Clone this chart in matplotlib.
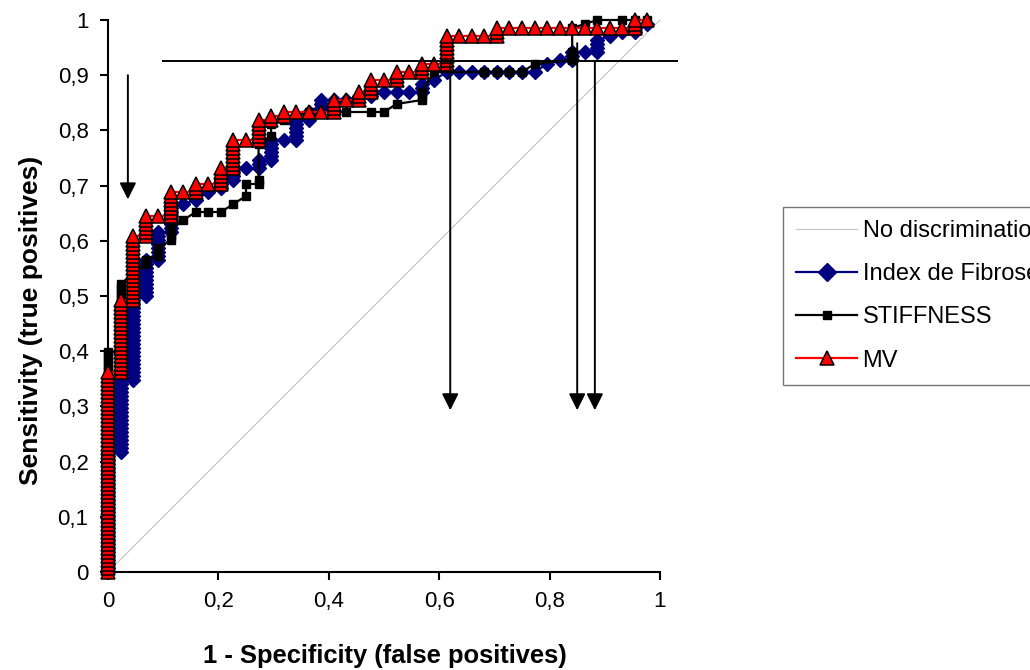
import matplotlib
matplotlib.use("Agg")
import matplotlib.pyplot as plt
from matplotlib.lines import Line2D
import numpy as np

plt.rcParams['font.family'] = ['Liberation Sans', 'DejaVu Sans']

# Study sizes: patients without / with significant fibrosis
N_NEG = 44
N_POS = 138

# ROC points as (false-positive count, true-positive count), one line per FP level
fib_fp = [
    0, 0, 0, 0, 0, 0, 0, 0, 0, 0, 0, 0, 0, 0, 0, 0, 0, 0, 0, 0, 0, 0, 0, 0, 0, 0, 0, 0, 0, 0, 0,
    1, 1, 1, 1, 1, 1, 1, 1, 1, 1, 1, 1, 1, 1, 1, 1, 1, 1, 1,
    2, 2, 2, 2, 2, 2, 2, 2, 2, 2, 2, 2, 2, 2, 2, 2, 2, 2, 2, 2, 2,
    3, 3, 3, 3, 3, 3, 3, 3, 3, 3,
    4, 4, 4, 4, 4, 4, 4, 4,
    5, 5, 5, 5, 5, 5, 5, 5,
    6, 7, 8,
    9, 9, 9,
    10, 10, 10, 10,
    11,
    12, 12, 12,
    13, 13, 13, 13, 13, 13,
    14,
    15, 15, 15, 15, 15, 15,
    16, 16, 16,
    17, 17, 17,
    18, 19, 20, 21, 22, 23, 24,
    25, 25, 25,
    26, 27, 28, 29, 30, 31, 32, 33, 34, 35, 36,
    37, 37, 37,
    38,
    39, 39, 39, 39,
    40, 41,
    42, 42,
    43,
]
fib_tp = [
    0, 1, 2, 3, 4, 5, 6, 7, 8, 9, 10, 11, 12, 13, 14, 15, 16, 17, 18, 19, 20, 21, 22, 23, 24, 25, 26, 27, 28, 29, 30,
    30, 31, 32, 33, 34, 35, 36, 37, 38, 39, 40, 41, 42, 43, 44, 45, 46, 47, 48,
    48, 49, 50, 51, 52, 53, 54, 55, 56, 57, 58, 59, 60, 61, 62, 63, 64, 65, 66, 67, 68,
    69, 70, 71, 72, 73, 74, 75, 76, 77, 78,
    78, 79, 80, 81, 82, 83, 84, 85,
    85, 86, 87, 88, 89, 90, 91, 92,
    92, 93, 95,
    96, 97, 98,
    98, 99, 100, 101,
    101,
    101, 102, 103,
    103, 104, 105, 106, 107, 108,
    108,
    108, 109, 110, 111, 112, 113,
    113, 114, 115,
    116, 117, 118,
    118, 118, 119, 119, 120, 120, 120,
    120, 121, 122,
    123, 125, 125, 125, 125, 125, 125, 125, 125, 127, 128,
    128, 129, 130,
    130,
    130, 131, 132, 133,
    134, 135,
    135, 136,
    137,
]

stiff_fp = [
    0, 0, 0, 0, 0, 0, 0, 0, 0, 0, 0, 0, 0, 0, 0, 0, 0, 0, 0, 0, 0, 0, 0, 0, 0, 0, 0, 0,
    0, 0, 0, 0, 0, 0, 0, 0, 0, 0, 0, 0, 0, 0, 0, 0, 0, 0, 0, 0, 0, 0, 0, 0, 0, 0, 0, 0,
    1, 1, 1, 1, 1, 1, 1, 1, 1, 1, 1, 1, 1, 1, 1, 1, 1, 1,
    3, 3,
    4, 4, 4,
    5, 5, 5, 5,
    6, 7, 8, 9, 10,
    11, 11,
    12, 12, 12,
    13, 13,
    14, 16, 19, 21, 22, 23,
    25, 25, 25,
    26, 30, 31, 32, 33, 34,
    37, 37, 37, 37,
    38, 39, 41, 42, 43,
]
stiff_tp = [
    0, 1, 2, 3, 4, 5, 6, 7, 8, 9, 10, 11, 12, 13, 14, 15, 16, 17, 18, 19, 20, 21, 22, 23, 24, 25, 26, 27,
    28, 29, 30, 31, 32, 33, 34, 35, 36, 37, 38, 39, 40, 41, 42, 43, 44, 45, 46, 47, 48, 49, 50, 51, 52, 53, 54, 55,
    55, 56, 57, 58, 59, 60, 61, 62, 63, 64, 65, 66, 67, 68, 69, 70, 71, 72,
    77, 78,
    79, 80, 81,
    83, 84, 85, 86,
    88, 90, 90, 90, 92,
    94, 97,
    97, 98, 107,
    109, 112,
    113, 115, 115, 115, 115, 117,
    118, 119, 120,
    125, 125, 125, 125, 125, 127,
    128, 129, 130, 136,
    137, 138, 138, 138, 138,
]

mv_fp = [
    0, 0, 0, 0, 0, 0, 0, 0, 0, 0, 0, 0, 0, 0, 0, 0, 0, 0, 0, 0, 0, 0, 0, 0, 0, 0,
    0, 0, 0, 0, 0, 0, 0, 0, 0, 0, 0, 0, 0, 0, 0, 0, 0, 0, 0, 0, 0, 0, 0, 0, 0,
    1, 1, 1, 1, 1, 1, 1, 1, 1, 1, 1, 1, 1, 1, 1, 1, 1, 1, 1,
    2, 2, 2, 2, 2, 2, 2, 2, 2, 2, 2, 2, 2, 2, 2, 2, 2,
    3, 3, 3, 3, 3, 3,
    4,
    5, 5, 5, 5, 5, 5, 5,
    6,
    7, 7, 7,
    8,
    9, 9, 9, 9, 9,
    10, 10, 10, 10, 10, 10, 10, 10,
    11,
    12, 12, 12, 12, 12, 12,
    13, 13,
    14, 14,
    15, 16, 17,
    18, 18, 18, 18,
    19,
    20, 20, 20,
    21, 21, 21, 21,
    22,
    23, 23, 23,
    24,
    25, 25, 25,
    26,
    27, 27, 27, 27, 27, 27, 27, 27,
    28, 29, 30,
    31, 31, 31,
    32, 33, 34, 35, 36, 37, 38, 39, 40, 41,
    42, 42, 42,
    43,
]
mv_tp = [
    0, 1, 2, 3, 4, 5, 6, 7, 8, 9, 10, 11, 12, 13, 14, 15, 16, 17, 18, 19, 20, 21, 22, 23, 24, 25,
    26, 27, 28, 29, 30, 31, 32, 33, 34, 35, 36, 37, 38, 39, 40, 41, 42, 43, 44, 45, 46, 47, 48, 49, 50,
    50, 51, 52, 53, 54, 55, 56, 57, 58, 59, 60, 61, 62, 63, 64, 65, 66, 67, 68,
    68, 69, 70, 71, 72, 73, 74, 75, 76, 77, 78, 79, 80, 81, 82, 83, 84,
    84, 85, 86, 87, 88, 89,
    89,
    89, 90, 91, 92, 93, 94, 95,
    95,
    95, 96, 97,
    97,
    97, 98, 99, 100, 101,
    101, 102, 103, 104, 105, 106, 107, 108,
    108,
    108, 109, 110, 111, 112, 113,
    113, 114,
    114, 115,
    115, 115, 115,
    115, 116, 117, 118,
    118,
    118, 119, 120,
    120, 121, 122, 123,
    123,
    123, 124, 125,
    125,
    125, 126, 127,
    127,
    127, 128, 129, 130, 131, 132, 133, 134,
    134, 134, 134,
    134, 135, 136,
    136, 136, 136, 136, 136, 136, 136, 136, 136, 136,
    136, 137, 138,
    138,
]

# Chance diagonal
diag_x = [0, 1]
diag_y = [0, 1]

# Reference line and cut-off arrows
ref_y = 0.926
ref_x = [0.10, 1.03]
arrow_x = [0.036, 0.62, 0.85, 0.882]
arrow_top = [0.90, 0.926, 0.958, 0.926]
arrow_tip = [0.675, 0.293, 0.293, 0.293]

x_ticks = [0, 0.2, 0.4, 0.6, 0.8, 1]
x_tick_labels = ["0", "0,2", "0,4", "0,6", "0,8", "1"]
y_ticks = [0, 0.1, 0.2, 0.3, 0.4, 0.5, 0.6, 0.7, 0.8, 0.9, 1]
y_tick_labels = ["0", "0,1", "0,2", "0,3", "0,4", "0,5", "0,6", "0,7", "0,8", "0,9", "1"]

W, H = 1030, 670
fig = plt.figure(figsize=(W / 100, H / 100), dpi=100)
ax = fig.add_axes([108 / W, 98 / H, 552 / W, 552 / H])

ax.plot(diag_x, diag_y, color="#c8c8c8", lw=0.9, zorder=2, clip_on=False)

fib_x = np.array(fib_fp) / N_NEG
fib_y = np.array(fib_tp) / N_POS
ax.plot(fib_x, fib_y, color="#000080", lw=1.6, marker="D", markersize=7.2,
        markerfacecolor="#000080", markeredgecolor="#000080", zorder=4, clip_on=False)

st_x = np.array(stiff_fp) / N_NEG
st_y = np.array(stiff_tp) / N_POS
ax.plot(st_x, st_y, color="black", lw=1.6, marker="s", markersize=5.5,
        markerfacecolor="black", markeredgecolor="black", zorder=5, clip_on=False)

mv_x = np.array(mv_fp) / N_NEG
mv_y = np.array(mv_tp) / N_POS
ax.plot(mv_x, mv_y, color="#ff0000", lw=1.6, marker="^", markersize=10,
        markerfacecolor="#ff0000", markeredgecolor="black", markeredgewidth=1.1,
        zorder=6, clip_on=False)

ax.plot(ref_x, [ref_y, ref_y], color="black", lw=1.4, zorder=7, clip_on=False)
for xa, y0, y1 in zip(arrow_x, arrow_top, arrow_tip):
    ax.annotate("", xy=(xa, y1), xytext=(xa, y0), annotation_clip=False,
                arrowprops=dict(arrowstyle="-|>,head_length=0.5,head_width=0.25",
                                mutation_scale=20, color="black", lw=1.4,
                                shrinkA=0, shrinkB=0), zorder=7)

ax.set_xlim(0, 1)
ax.set_ylim(0, 1)
for side in ("top", "right"):
    ax.spines[side].set_visible(False)
for side in ("left", "bottom"):
    ax.spines[side].set_linewidth(1.5)
    ax.spines[side].set_zorder(3)

ax.set_xticks(x_ticks)
ax.set_xticklabels(x_tick_labels)
ax.set_yticks(y_ticks)
ax.set_yticklabels(y_tick_labels)
ax.tick_params(direction="out", length=6, width=1.5, labelsize=16, pad=8)

fig.text(385 / W, 1 - 656 / H, "1 - Specificity (false positives)", ha="center",
         va="center", fontsize=18.4, fontweight="bold")
fig.text(31 / W, 1 - 320 / H, "Sensitivity (true positives)", ha="center",
         va="center", rotation=90, fontsize=19, fontweight="bold")

handles = [
    Line2D([], [], color="#c8c8c8", lw=0.9),
    Line2D([], [], color="#000080", lw=1.6, marker="D", markersize=9,
           markerfacecolor="#000080", markeredgecolor="#000080"),
    Line2D([], [], color="black", lw=1.6, marker="s", markersize=6),
    Line2D([], [], color="#ff0000", lw=1.6, marker="^", markersize=10,
           markerfacecolor="#ff0000", markeredgecolor="black", markeredgewidth=1.1),
]
labels = ["No discrimination", "Index de Fibrose", "STIFFNESS", "MV"]
leg = fig.legend(handles, labels, loc="upper left",
                 bbox_to_anchor=(783 / W, 1 - 207 / H), bbox_transform=fig.transFigure,
                 fontsize=17, frameon=True, fancybox=False, borderaxespad=0,
                 handlelength=2.6, handletextpad=0.22, labelspacing=0.9,
                 borderpad=0.55)
leg.get_frame().set_edgecolor("#555555")
leg.get_frame().set_linewidth(1.0)

fig.savefig("out.png", dpi=100)
